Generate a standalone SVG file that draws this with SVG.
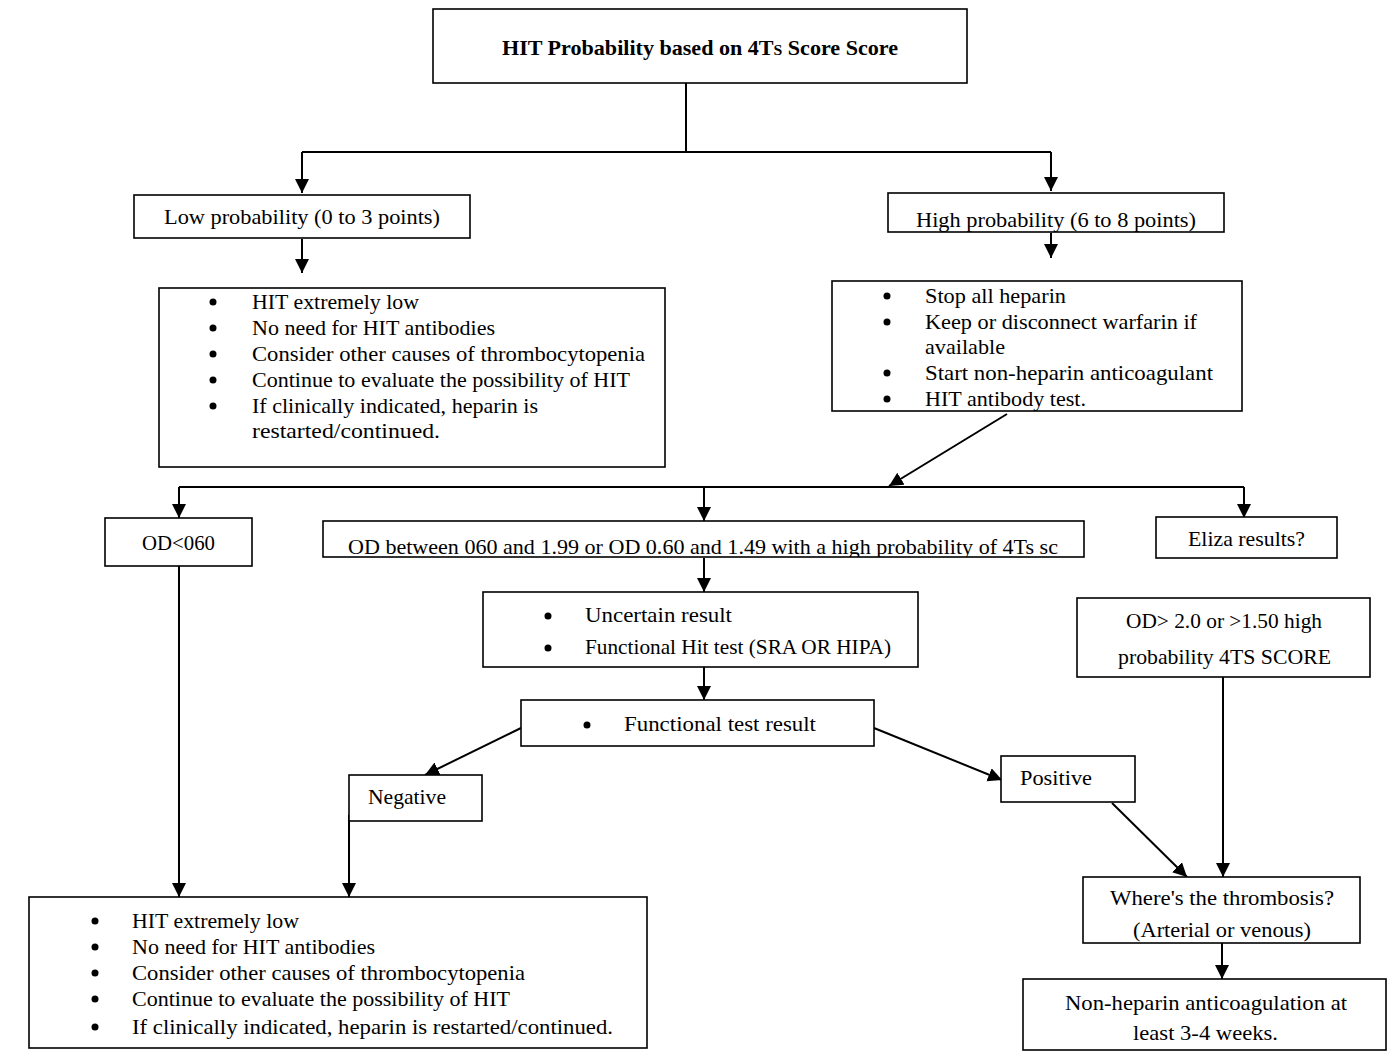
<svg xmlns="http://www.w3.org/2000/svg" width="1400" height="1056" viewBox="0 0 1400 1056">
<style>
  .box { fill: #ffffff; stroke: #000000; stroke-width: 1.6; }
  .t { font-family: "Liberation Serif", "Times New Roman", serif; font-size: 21px; fill: #000000; }
  .dot { fill: #000000; }
  .ln { fill: none; stroke: #000000; stroke-width: 2; }
  .title { font-family: "Liberation Serif", "Times New Roman", serif; font-size: 21px; font-weight: bold; fill: #000000; }
</style>
<defs>
  <marker id="ah" markerUnits="userSpaceOnUse" markerWidth="14" markerHeight="16" refX="14" refY="7" orient="auto">
    <path d="M0,0 L14,7 L0,14 Z" fill="#000000"/>
  </marker>
  <clipPath id="clipHigh"><rect x="888" y="193" width="336" height="39"/></clipPath>
  <clipPath id="clipOD"><rect x="323" y="521" width="761" height="36"/></clipPath>
  <clipPath id="clipWhere"><rect x="1083" y="877" width="277" height="66"/></clipPath>
</defs>
<rect width="1400" height="1056" fill="#ffffff"/>

<g id="connectors">
  <path class="ln" d="M686,83 V152"/>
  <path class="ln" d="M302,152 H1051"/>
  <path class="ln" d="M302,152 V193" marker-end="url(#ah)"/>
  <path class="ln" d="M1051,152 V191" marker-end="url(#ah)"/>
  <path class="ln" d="M302,239 V273" marker-end="url(#ah)"/>
  <path class="ln" d="M1051,233 V258" marker-end="url(#ah)"/>
  <path class="ln" d="M1007,414 L889,486" marker-end="url(#ah)"/>
  <path class="ln" d="M179,487 H1244"/>
  <path class="ln" d="M179,487 V518" marker-end="url(#ah)"/>
  <path class="ln" d="M704,487 V521" marker-end="url(#ah)"/>
  <path class="ln" d="M1244,487 V518" marker-end="url(#ah)"/>
  <path class="ln" d="M704,558 V592" marker-end="url(#ah)"/>
  <path class="ln" d="M704,667 V700" marker-end="url(#ah)"/>
  <path class="ln" d="M521,728 L425,775" marker-end="url(#ah)"/>
  <path class="ln" d="M874,728 L1002,780" marker-end="url(#ah)"/>
  <path class="ln" d="M179,566 V897" marker-end="url(#ah)"/>
  <path class="ln" d="M349,815 V897" marker-end="url(#ah)"/>
  <path class="ln" d="M1223,677 V877" marker-end="url(#ah)"/>
  <path class="ln" d="M1112,803 L1187,877" marker-end="url(#ah)"/>
  <path class="ln" d="M1222,943 V979" marker-end="url(#ah)"/>
</g>

<g id="node-title">
  <rect class="box" x="433" y="9" width="534" height="74"/>
  <text class="title" x="502" y="55" textLength="396" lengthAdjust="spacingAndGlyphs">HIT Probability based on 4T<tspan font-size="15">S</tspan> Score Score</text>
</g>

<g id="node-low">
  <rect class="box" x="134" y="195" width="336" height="43"/>
  <text class="t" x="164" y="224" textLength="276" lengthAdjust="spacingAndGlyphs">Low probability (0 to 3 points)</text>
</g>

<g id="node-high">
  <rect class="box" x="888" y="193" width="336" height="39"/>
  <text class="t" x="916" y="227" textLength="280" lengthAdjust="spacingAndGlyphs" clip-path="url(#clipHigh)">High probability (6 to 8 points)</text>
</g>

<g id="node-low-actions">
  <rect class="box" x="159" y="288" width="506" height="179"/>
  <circle class="dot" cx="213" cy="302" r="3.5"/>
  <text class="t" x="252" y="309" textLength="167" lengthAdjust="spacingAndGlyphs">HIT extremely low</text>
  <circle class="dot" cx="213" cy="328" r="3.5"/>
  <text class="t" x="252" y="335" textLength="243" lengthAdjust="spacingAndGlyphs">No need for HIT antibodies</text>
  <circle class="dot" cx="213" cy="354" r="3.5"/>
  <text class="t" x="252" y="361" textLength="393" lengthAdjust="spacingAndGlyphs">Consider other causes of thrombocytopenia</text>
  <circle class="dot" cx="213" cy="380" r="3.5"/>
  <text class="t" x="252" y="387" textLength="378" lengthAdjust="spacingAndGlyphs">Continue to evaluate the possibility of HIT</text>
  <circle class="dot" cx="213" cy="406" r="3.5"/>
  <text class="t" x="252" y="413" textLength="286" lengthAdjust="spacingAndGlyphs">If clinically indicated, heparin is</text>
  <text class="t" x="252" y="438" textLength="188" lengthAdjust="spacingAndGlyphs">restarted/continued.</text>
</g>

<g id="node-high-actions">
  <rect class="box" x="832" y="281" width="410" height="130"/>
  <circle class="dot" cx="887" cy="296" r="3.5"/>
  <text class="t" x="925" y="303" textLength="141" lengthAdjust="spacingAndGlyphs">Stop all heparin</text>
  <circle class="dot" cx="887" cy="322" r="3.5"/>
  <text class="t" x="925" y="329" textLength="272" lengthAdjust="spacingAndGlyphs">Keep or disconnect warfarin if</text>
  <text class="t" x="925" y="354" textLength="80" lengthAdjust="spacingAndGlyphs">available</text>
  <circle class="dot" cx="887" cy="373" r="3.5"/>
  <text class="t" x="925" y="380" textLength="288" lengthAdjust="spacingAndGlyphs">Start non-heparin anticoagulant</text>
  <circle class="dot" cx="887" cy="399" r="3.5"/>
  <text class="t" x="925" y="406" textLength="161" lengthAdjust="spacingAndGlyphs">HIT antibody test.</text>
</g>

<g id="node-od-low">
  <rect class="box" x="105" y="518" width="147" height="48"/>
  <text class="t" x="142" y="550" textLength="73" lengthAdjust="spacingAndGlyphs">OD&lt;060</text>
</g>

<g id="node-od-mid">
  <rect class="box" x="323" y="521" width="761" height="36"/>
  <text class="t" x="348" y="554" textLength="710" lengthAdjust="spacingAndGlyphs" clip-path="url(#clipOD)">OD between 060 and 1.99 or OD 0.60 and 1.49 with a high probability of 4Ts sc</text>
</g>

<g id="node-eliza">
  <rect class="box" x="1156" y="517" width="181" height="41"/>
  <text class="t" x="1188" y="546" textLength="117" lengthAdjust="spacingAndGlyphs">Eliza results?</text>
</g>

<g id="node-uncertain">
  <rect class="box" x="483" y="592" width="435" height="75"/>
  <circle class="dot" cx="548" cy="616" r="3.5"/>
  <text class="t" x="585" y="622" textLength="147" lengthAdjust="spacingAndGlyphs">Uncertain result</text>
  <circle class="dot" cx="548" cy="648" r="3.5"/>
  <text class="t" x="585" y="654" textLength="306" lengthAdjust="spacingAndGlyphs">Functional Hit test (SRA OR HIPA)</text>
</g>

<g id="node-functional">
  <rect class="box" x="521" y="700" width="353" height="46"/>
  <circle class="dot" cx="587" cy="725" r="3.5"/>
  <text class="t" x="624" y="731" textLength="192" lengthAdjust="spacingAndGlyphs">Functional test result</text>
</g>

<g id="node-negative">
  <rect class="box" x="349" y="775" width="133" height="46"/>
  <text class="t" x="368" y="804" textLength="78" lengthAdjust="spacingAndGlyphs">Negative</text>
</g>

<g id="node-positive">
  <rect class="box" x="1001" y="756" width="134" height="46"/>
  <text class="t" x="1020" y="785" textLength="72" lengthAdjust="spacingAndGlyphs">Positive</text>
</g>

<g id="node-od-high">
  <rect class="box" x="1077" y="598" width="293" height="79"/>
  <text class="t" x="1126" y="628" textLength="196" lengthAdjust="spacingAndGlyphs">OD&gt; 2.0 or &gt;1.50 high</text>
  <text class="t" x="1118" y="664" textLength="213" lengthAdjust="spacingAndGlyphs">probability 4TS SCORE</text>
</g>

<g id="node-where">
  <rect class="box" x="1083" y="877" width="277" height="66"/>
  <text class="t" x="1110" y="905" textLength="224" lengthAdjust="spacingAndGlyphs">Where's the thrombosis?</text>
  <text class="t" x="1133" y="937" textLength="178" lengthAdjust="spacingAndGlyphs" clip-path="url(#clipWhere)">(Arterial or venous)</text>
</g>

<g id="node-nonheparin">
  <rect class="box" x="1023" y="979" width="363" height="71"/>
  <text class="t" x="1065" y="1010" textLength="282" lengthAdjust="spacingAndGlyphs">Non-heparin anticoagulation at</text>
  <text class="t" x="1133" y="1040" textLength="145" lengthAdjust="spacingAndGlyphs">least 3-4 weeks.</text>
</g>

<g id="node-bottom-low">
  <rect class="box" x="29" y="897" width="618" height="151"/>
  <circle class="dot" cx="95" cy="921" r="3.5"/>
  <text class="t" x="132" y="928" textLength="167" lengthAdjust="spacingAndGlyphs">HIT extremely low</text>
  <circle class="dot" cx="95" cy="947" r="3.5"/>
  <text class="t" x="132" y="954" textLength="243" lengthAdjust="spacingAndGlyphs">No need for HIT antibodies</text>
  <circle class="dot" cx="95" cy="973" r="3.5"/>
  <text class="t" x="132" y="980" textLength="393" lengthAdjust="spacingAndGlyphs">Consider other causes of thrombocytopenia</text>
  <circle class="dot" cx="95" cy="999" r="3.5"/>
  <text class="t" x="132" y="1006" textLength="378" lengthAdjust="spacingAndGlyphs">Continue to evaluate the possibility of HIT</text>
  <circle class="dot" cx="95" cy="1027" r="3.5"/>
  <text class="t" x="132" y="1034" textLength="481" lengthAdjust="spacingAndGlyphs">If clinically indicated, heparin is restarted/continued.</text>
</g>
</svg>
